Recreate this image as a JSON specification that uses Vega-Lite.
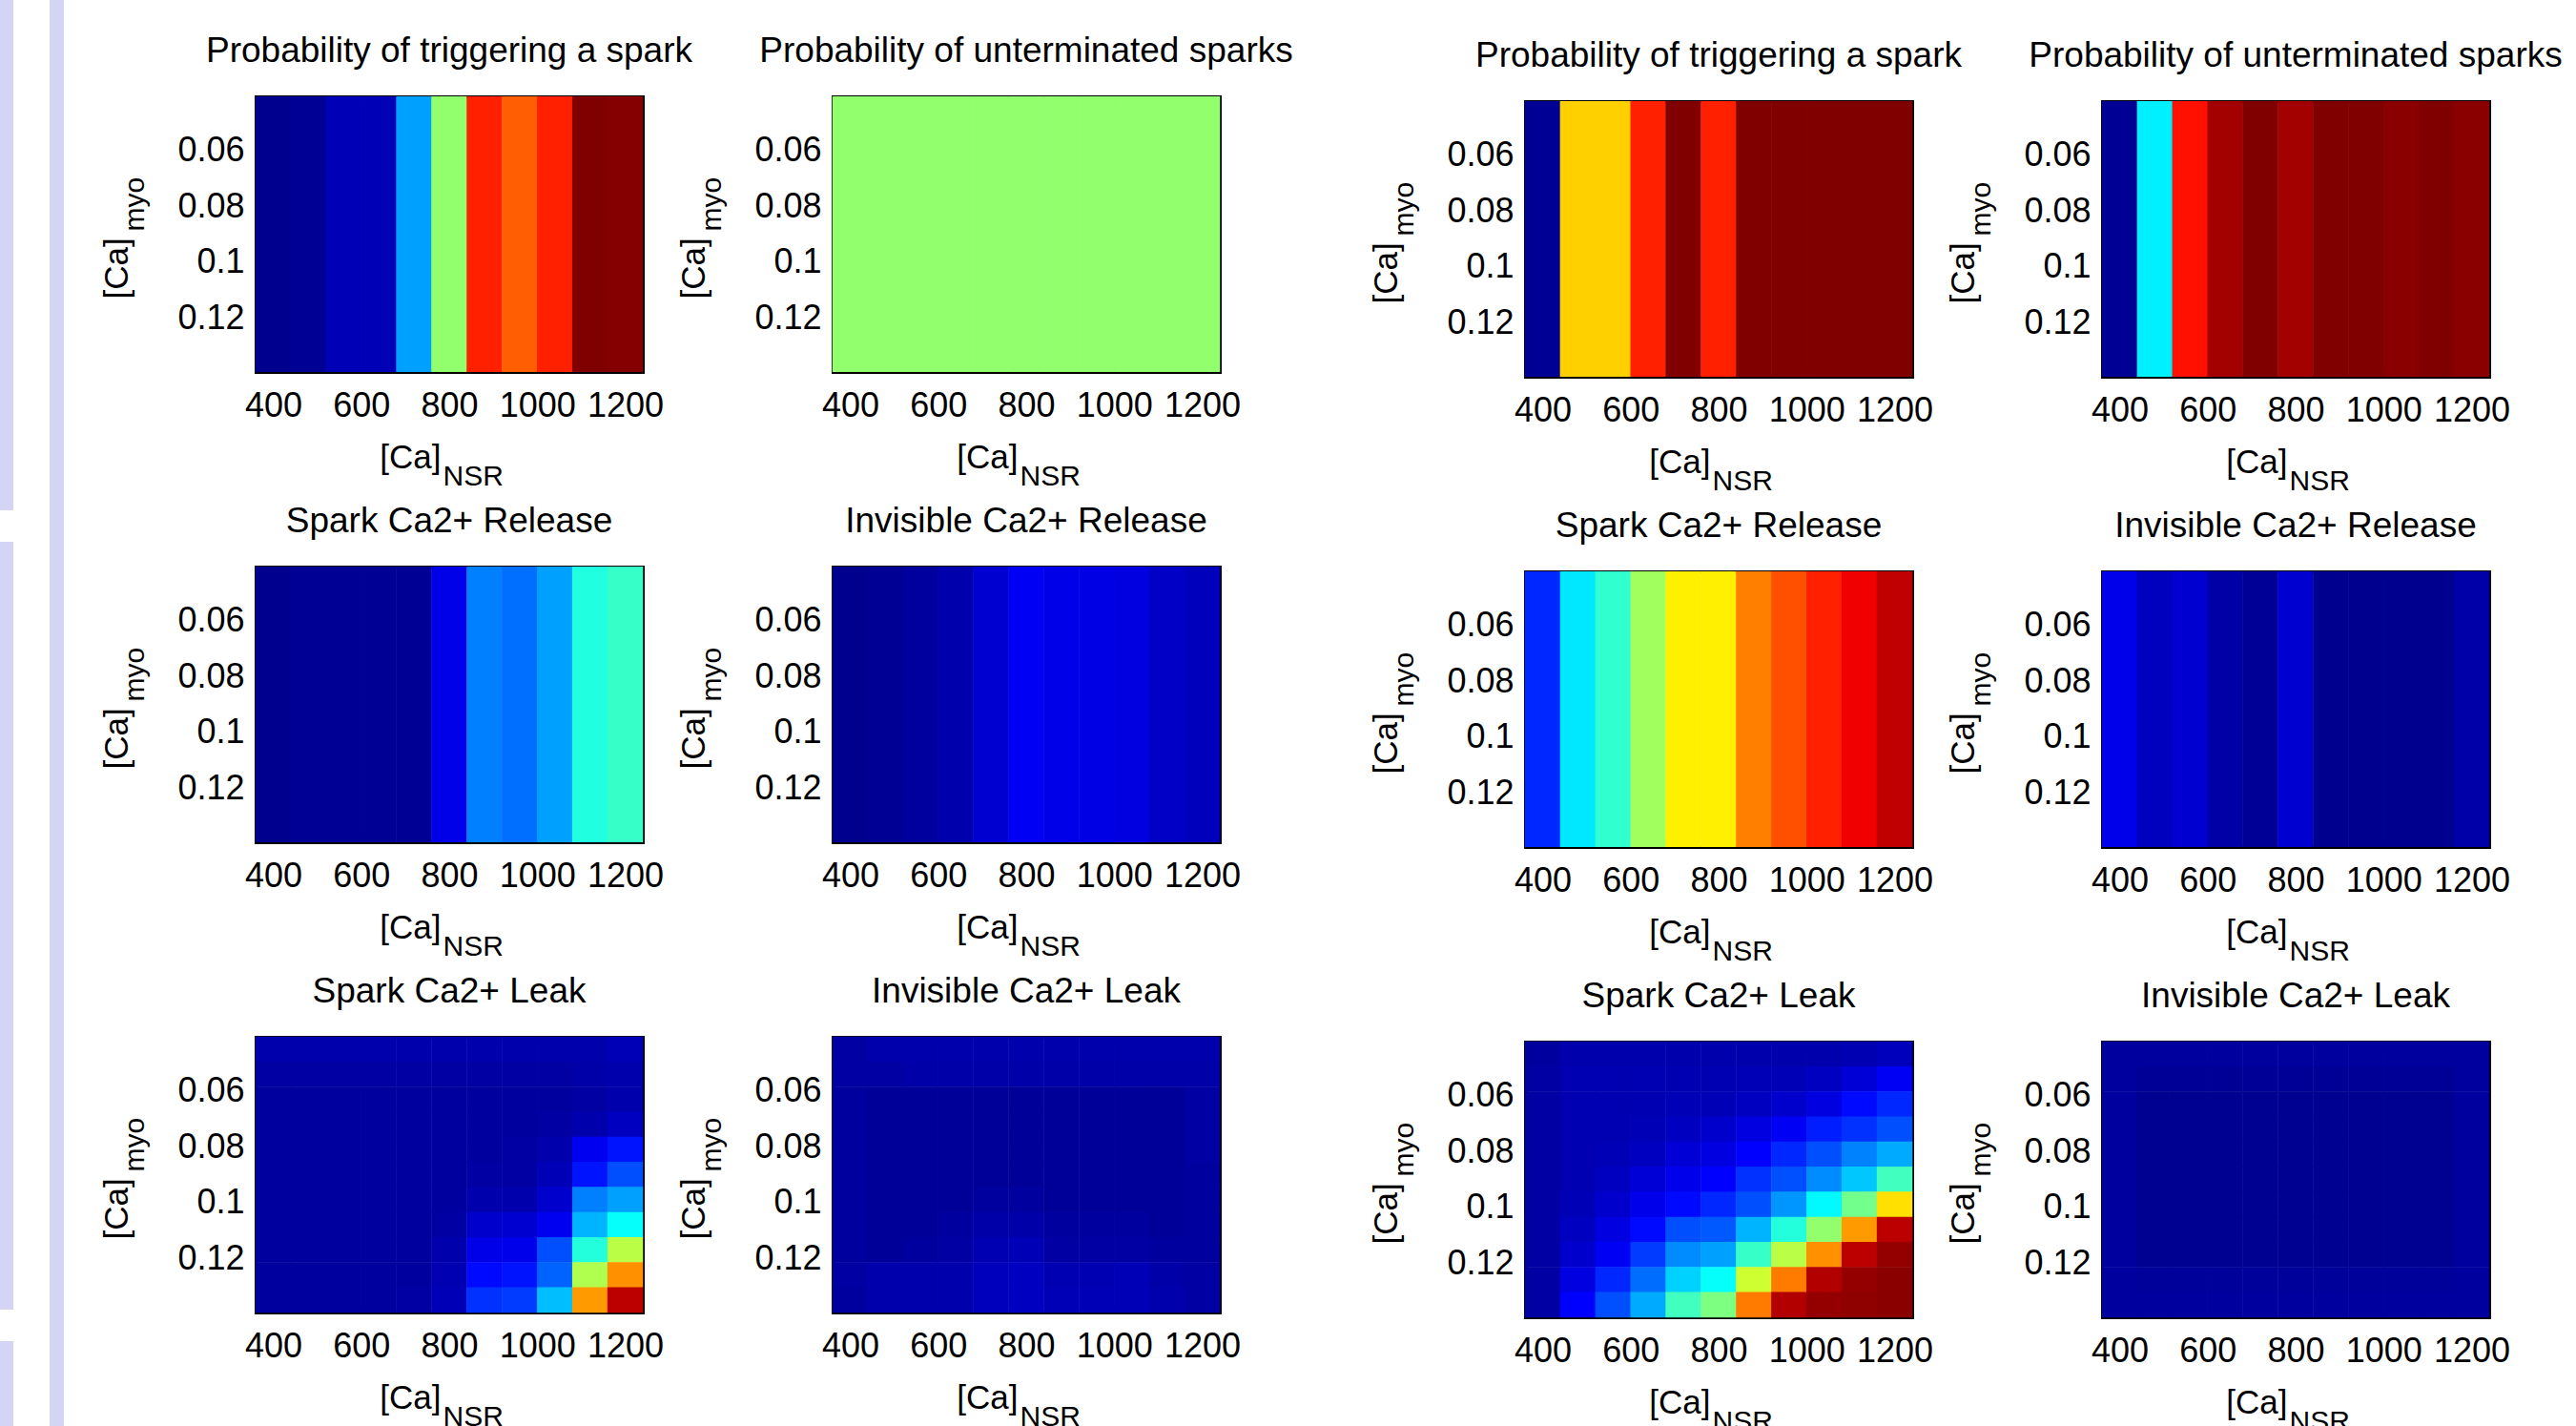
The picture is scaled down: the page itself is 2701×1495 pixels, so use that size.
{
"$schema":"https://vega.github.io/schema/vega-lite/v6.json",
"padding":0,
"background":"white",
"spacing":38,
"config":{
 "view":{"stroke":null},
 "title":{"font":"Liberation Sans","fontSize":37,"fontWeight":"normal","color":"black","offset":27,"baseline":"alphabetic","frame":"group","anchor":"middle"},
 "axis":{"grid":false,"ticks":true,"tickSize":-8,"tickWidth":2,"tickColor":"black","domain":true,"domainWidth":3,"domainColor":"black","domainCap":"square","zindex":1,"labelFont":"Liberation Sans","labelFontSize":36,"labelColor":"black","labelFlush":false,"labelOverlap":false,"titleFont":"Liberation Sans","titleFontSize":35,"titleFontWeight":"normal","titleColor":"black"}
},
"datasets":{
 "s":[{"s":1}],
 "a1":[{"x":400,"v":0},{"x":480,"v":0.005},{"x":560,"v":0.04},{"x":640,"v":0.04},{"x":720,"v":0.27},{"x":800,"v":0.51},{"x":880,"v":0.841},{"x":960,"v":0.778},{"x":1040,"v":0.841},{"x":1120,"v":1},{"x":1200,"v":0.995}],
 "a2":[{"x":400,"v":0.51},{"x":480,"v":0.51},{"x":560,"v":0.51},{"x":640,"v":0.51},{"x":720,"v":0.51},{"x":800,"v":0.51},{"x":880,"v":0.51},{"x":960,"v":0.51},{"x":1040,"v":0.51},{"x":1120,"v":0.51},{"x":1200,"v":0.51}],
 "a3":[{"x":400,"v":0},{"x":480,"v":0.005},{"x":560,"v":0.005},{"x":640,"v":0.005},{"x":720,"v":0.005},{"x":800,"v":0.088},{"x":880,"v":0.238},{"x":960,"v":0.222},{"x":1040,"v":0.27},{"x":1120,"v":0.397},{"x":1200,"v":0.42}],
 "a4":[{"x":400,"v":0},{"x":480,"v":0.005},{"x":560,"v":0.016},{"x":640,"v":0.03},{"x":720,"v":0.064},{"x":800,"v":0.1},{"x":880,"v":0.088},{"x":960,"v":0.085},{"x":1040,"v":0.08},{"x":1120,"v":0.055},{"x":1200,"v":0.045}],
 "b1":[{"x":400,"v":0.005},{"x":480,"v":0.666},{"x":560,"v":0.666},{"x":640,"v":0.841},{"x":720,"v":1},{"x":800,"v":0.841},{"x":880,"v":1},{"x":960,"v":1},{"x":1040,"v":1},{"x":1120,"v":1},{"x":1200,"v":1}],
 "b2":[{"x":400,"v":0.005},{"x":480,"v":0.35},{"x":560,"v":0.857},{"x":640,"v":0.965},{"x":720,"v":1},{"x":800,"v":0.965},{"x":880,"v":1},{"x":960,"v":1},{"x":1040,"v":0.99},{"x":1120,"v":1},{"x":1200,"v":0.99}],
 "b3":[{"x":400,"v":0.15},{"x":480,"v":0.342},{"x":560,"v":0.413},{"x":640,"v":0.525},{"x":720,"v":0.634},{"x":800,"v":0.634},{"x":880,"v":0.746},{"x":960,"v":0.793},{"x":1040,"v":0.841},{"x":1120,"v":0.888},{"x":1200,"v":0.936}],
 "b4":[{"x":400,"v":0.09},{"x":480,"v":0.048},{"x":560,"v":0.064},{"x":640,"v":0.024},{"x":720,"v":0.008},{"x":800,"v":0.064},{"x":880,"v":0},{"x":960,"v":0},{"x":1040,"v":0},{"x":1120,"v":0},{"x":1200,"v":0.025}],
 "a5":[
{"x":400,"y":0.045,"v":0.03},{"x":480,"y":0.045,"v":0.03},{"x":560,"y":0.045,"v":0.03},{"x":640,"y":0.045,"v":0.03},{"x":720,"y":0.045,"v":0.03},{"x":800,"y":0.045,"v":0.03},{"x":880,"y":0.045,"v":0.03},{"x":960,"y":0.045,"v":0.03},{"x":1040,"y":0.045,"v":0.03},{"x":1120,"y":0.045,"v":0.03},{"x":1200,"y":0.045,"v":0.04},
{"x":400,"y":0.054,"v":0.02},{"x":480,"y":0.054,"v":0.02},{"x":560,"y":0.054,"v":0.02},{"x":640,"y":0.054,"v":0.02},{"x":720,"y":0.054,"v":0.02},{"x":800,"y":0.054,"v":0.02},{"x":880,"y":0.054,"v":0.02},{"x":960,"y":0.054,"v":0.02},{"x":1040,"y":0.054,"v":0.02},{"x":1120,"y":0.054,"v":0.025},{"x":1200,"y":0.054,"v":0.03},
{"x":400,"y":0.063,"v":0.015},{"x":480,"y":0.063,"v":0.015},{"x":560,"y":0.063,"v":0.015},{"x":640,"y":0.063,"v":0.015},{"x":720,"y":0.063,"v":0.015},{"x":800,"y":0.063,"v":0.015},{"x":880,"y":0.063,"v":0.015},{"x":960,"y":0.063,"v":0.015},{"x":1040,"y":0.063,"v":0.015},{"x":1120,"y":0.063,"v":0.02},{"x":1200,"y":0.063,"v":0.03},
{"x":400,"y":0.072,"v":0.015},{"x":480,"y":0.072,"v":0.015},{"x":560,"y":0.072,"v":0.015},{"x":640,"y":0.072,"v":0.015},{"x":720,"y":0.072,"v":0.015},{"x":800,"y":0.072,"v":0.015},{"x":880,"y":0.072,"v":0.015},{"x":960,"y":0.072,"v":0.015},{"x":1040,"y":0.072,"v":0.02},{"x":1120,"y":0.072,"v":0.03},{"x":1200,"y":0.072,"v":0.05},
{"x":400,"y":0.081,"v":0.015},{"x":480,"y":0.081,"v":0.015},{"x":560,"y":0.081,"v":0.015},{"x":640,"y":0.081,"v":0.015},{"x":720,"y":0.081,"v":0.015},{"x":800,"y":0.081,"v":0.015},{"x":880,"y":0.081,"v":0.015},{"x":960,"y":0.081,"v":0.02},{"x":1040,"y":0.081,"v":0.03},{"x":1120,"y":0.081,"v":0.096},{"x":1200,"y":0.081,"v":0.13},
{"x":400,"y":0.09,"v":0.015},{"x":480,"y":0.09,"v":0.015},{"x":560,"y":0.09,"v":0.015},{"x":640,"y":0.09,"v":0.015},{"x":720,"y":0.09,"v":0.015},{"x":800,"y":0.09,"v":0.015},{"x":880,"y":0.09,"v":0.02},{"x":960,"y":0.09,"v":0.02},{"x":1040,"y":0.09,"v":0.04},{"x":1120,"y":0.09,"v":0.13},{"x":1200,"y":0.09,"v":0.19},
{"x":400,"y":0.099,"v":0.015},{"x":480,"y":0.099,"v":0.015},{"x":560,"y":0.099,"v":0.015},{"x":640,"y":0.099,"v":0.015},{"x":720,"y":0.099,"v":0.015},{"x":800,"y":0.099,"v":0.015},{"x":880,"y":0.099,"v":0.03},{"x":960,"y":0.099,"v":0.03},{"x":1040,"y":0.099,"v":0.06},{"x":1120,"y":0.099,"v":0.238},{"x":1200,"y":0.099,"v":0.27},
{"x":400,"y":0.108,"v":0.015},{"x":480,"y":0.108,"v":0.015},{"x":560,"y":0.108,"v":0.015},{"x":640,"y":0.108,"v":0.015},{"x":720,"y":0.108,"v":0.015},{"x":800,"y":0.108,"v":0.02},{"x":880,"y":0.108,"v":0.06},{"x":960,"y":0.108,"v":0.065},{"x":1040,"y":0.108,"v":0.096},{"x":1120,"y":0.108,"v":0.29},{"x":1200,"y":0.108,"v":0.37},
{"x":400,"y":0.117,"v":0.015},{"x":480,"y":0.117,"v":0.015},{"x":560,"y":0.117,"v":0.015},{"x":640,"y":0.117,"v":0.015},{"x":720,"y":0.117,"v":0.015},{"x":800,"y":0.117,"v":0.03},{"x":880,"y":0.117,"v":0.088},{"x":960,"y":0.117,"v":0.09},{"x":1040,"y":0.117,"v":0.19},{"x":1120,"y":0.117,"v":0.4},{"x":1200,"y":0.117,"v":0.55},
{"x":400,"y":0.126,"v":0.015},{"x":480,"y":0.126,"v":0.015},{"x":560,"y":0.126,"v":0.015},{"x":640,"y":0.126,"v":0.015},{"x":720,"y":0.126,"v":0.015},{"x":800,"y":0.126,"v":0.035},{"x":880,"y":0.126,"v":0.12},{"x":960,"y":0.126,"v":0.13},{"x":1040,"y":0.126,"v":0.21},{"x":1120,"y":0.126,"v":0.54},{"x":1200,"y":0.126,"v":0.73},
{"x":400,"y":0.135,"v":0.015},{"x":480,"y":0.135,"v":0.015},{"x":560,"y":0.135,"v":0.015},{"x":640,"y":0.135,"v":0.015},{"x":720,"y":0.135,"v":0.02},{"x":800,"y":0.135,"v":0.04},{"x":880,"y":0.135,"v":0.16},{"x":960,"y":0.135,"v":0.17},{"x":1040,"y":0.135,"v":0.3},{"x":1120,"y":0.135,"v":0.72},{"x":1200,"y":0.135,"v":0.94}
 ],
 "a6":[
{"x":400,"y":0.045,"v":0.02},{"x":480,"y":0.045,"v":0.03},{"x":560,"y":0.045,"v":0.03},{"x":640,"y":0.045,"v":0.03},{"x":720,"y":0.045,"v":0.03},{"x":800,"y":0.045,"v":0.03},{"x":880,"y":0.045,"v":0.03},{"x":960,"y":0.045,"v":0.03},{"x":1040,"y":0.045,"v":0.03},{"x":1120,"y":0.045,"v":0.03},{"x":1200,"y":0.045,"v":0.03},
{"x":400,"y":0.054,"v":0.02},{"x":480,"y":0.054,"v":0.02},{"x":560,"y":0.054,"v":0.025},{"x":640,"y":0.054,"v":0.025},{"x":720,"y":0.054,"v":0.025},{"x":800,"y":0.054,"v":0.025},{"x":880,"y":0.054,"v":0.025},{"x":960,"y":0.054,"v":0.025},{"x":1040,"y":0.054,"v":0.025},{"x":1120,"y":0.054,"v":0.025},{"x":1200,"y":0.054,"v":0.025},
{"x":400,"y":0.063,"v":0.015},{"x":480,"y":0.063,"v":0.01},{"x":560,"y":0.063,"v":0.01},{"x":640,"y":0.063,"v":0.01},{"x":720,"y":0.063,"v":0.01},{"x":800,"y":0.063,"v":0.01},{"x":880,"y":0.063,"v":0.01},{"x":960,"y":0.063,"v":0.01},{"x":1040,"y":0.063,"v":0.01},{"x":1120,"y":0.063,"v":0.01},{"x":1200,"y":0.063,"v":0.02},
{"x":400,"y":0.072,"v":0.015},{"x":480,"y":0.072,"v":0.01},{"x":560,"y":0.072,"v":0.01},{"x":640,"y":0.072,"v":0.01},{"x":720,"y":0.072,"v":0.01},{"x":800,"y":0.072,"v":0.01},{"x":880,"y":0.072,"v":0.01},{"x":960,"y":0.072,"v":0.01},{"x":1040,"y":0.072,"v":0.01},{"x":1120,"y":0.072,"v":0.01},{"x":1200,"y":0.072,"v":0.02},
{"x":400,"y":0.081,"v":0.015},{"x":480,"y":0.081,"v":0.01},{"x":560,"y":0.081,"v":0.01},{"x":640,"y":0.081,"v":0.01},{"x":720,"y":0.081,"v":0.01},{"x":800,"y":0.081,"v":0.01},{"x":880,"y":0.081,"v":0.01},{"x":960,"y":0.081,"v":0.01},{"x":1040,"y":0.081,"v":0.01},{"x":1120,"y":0.081,"v":0.01},{"x":1200,"y":0.081,"v":0.02},
{"x":400,"y":0.09,"v":0.015},{"x":480,"y":0.09,"v":0.01},{"x":560,"y":0.09,"v":0.01},{"x":640,"y":0.09,"v":0.01},{"x":720,"y":0.09,"v":0.01},{"x":800,"y":0.09,"v":0.01},{"x":880,"y":0.09,"v":0.01},{"x":960,"y":0.09,"v":0.01},{"x":1040,"y":0.09,"v":0.01},{"x":1120,"y":0.09,"v":0.01},{"x":1200,"y":0.09,"v":0.015},
{"x":400,"y":0.099,"v":0.015},{"x":480,"y":0.099,"v":0.01},{"x":560,"y":0.099,"v":0.01},{"x":640,"y":0.099,"v":0.01},{"x":720,"y":0.099,"v":0.015},{"x":800,"y":0.099,"v":0.015},{"x":880,"y":0.099,"v":0.01},{"x":960,"y":0.099,"v":0.01},{"x":1040,"y":0.099,"v":0.01},{"x":1120,"y":0.099,"v":0.01},{"x":1200,"y":0.099,"v":0.015},
{"x":400,"y":0.108,"v":0.015},{"x":480,"y":0.108,"v":0.01},{"x":560,"y":0.108,"v":0.01},{"x":640,"y":0.108,"v":0.015},{"x":720,"y":0.108,"v":0.025},{"x":800,"y":0.108,"v":0.025},{"x":880,"y":0.108,"v":0.015},{"x":960,"y":0.108,"v":0.015},{"x":1040,"y":0.108,"v":0.015},{"x":1120,"y":0.108,"v":0.01},{"x":1200,"y":0.108,"v":0.015},
{"x":400,"y":0.117,"v":0.015},{"x":480,"y":0.117,"v":0.01},{"x":560,"y":0.117,"v":0.015},{"x":640,"y":0.117,"v":0.02},{"x":720,"y":0.117,"v":0.035},{"x":800,"y":0.117,"v":0.04},{"x":880,"y":0.117,"v":0.02},{"x":960,"y":0.117,"v":0.02},{"x":1040,"y":0.117,"v":0.02},{"x":1120,"y":0.117,"v":0.015},{"x":1200,"y":0.117,"v":0.015},
{"x":400,"y":0.126,"v":0.02},{"x":480,"y":0.126,"v":0.03},{"x":560,"y":0.126,"v":0.03},{"x":640,"y":0.126,"v":0.03},{"x":720,"y":0.126,"v":0.045},{"x":800,"y":0.126,"v":0.05},{"x":880,"y":0.126,"v":0.035},{"x":960,"y":0.126,"v":0.035},{"x":1040,"y":0.126,"v":0.04},{"x":1120,"y":0.126,"v":0.025},{"x":1200,"y":0.126,"v":0.02},
{"x":400,"y":0.135,"v":0.015},{"x":480,"y":0.135,"v":0.03},{"x":560,"y":0.135,"v":0.03},{"x":640,"y":0.135,"v":0.03},{"x":720,"y":0.135,"v":0.045},{"x":800,"y":0.135,"v":0.05},{"x":880,"y":0.135,"v":0.04},{"x":960,"y":0.135,"v":0.04},{"x":1040,"y":0.135,"v":0.04},{"x":1120,"y":0.135,"v":0.03},{"x":1200,"y":0.135,"v":0.02}
 ],
 "b5":[
{"x":400,"y":0.045,"v":0.016},{"x":480,"y":0.045,"v":0.03},{"x":560,"y":0.045,"v":0.03},{"x":640,"y":0.045,"v":0.03},{"x":720,"y":0.045,"v":0.03},{"x":800,"y":0.045,"v":0.03},{"x":880,"y":0.045,"v":0.03},{"x":960,"y":0.045,"v":0.03},{"x":1040,"y":0.045,"v":0.03},{"x":1120,"y":0.045,"v":0.035},{"x":1200,"y":0.045,"v":0.045},
{"x":400,"y":0.054,"v":0.02},{"x":480,"y":0.054,"v":0.035},{"x":560,"y":0.054,"v":0.035},{"x":640,"y":0.054,"v":0.035},{"x":720,"y":0.054,"v":0.035},{"x":800,"y":0.054,"v":0.035},{"x":880,"y":0.054,"v":0.04},{"x":960,"y":0.054,"v":0.04},{"x":1040,"y":0.054,"v":0.05},{"x":1120,"y":0.054,"v":0.07},{"x":1200,"y":0.054,"v":0.1},
{"x":400,"y":0.063,"v":0.02},{"x":480,"y":0.063,"v":0.035},{"x":560,"y":0.063,"v":0.035},{"x":640,"y":0.063,"v":0.035},{"x":720,"y":0.063,"v":0.04},{"x":800,"y":0.063,"v":0.04},{"x":880,"y":0.063,"v":0.05},{"x":960,"y":0.063,"v":0.06},{"x":1040,"y":0.063,"v":0.08},{"x":1120,"y":0.063,"v":0.12},{"x":1200,"y":0.063,"v":0.15},
{"x":400,"y":0.072,"v":0.02},{"x":480,"y":0.072,"v":0.035},{"x":560,"y":0.072,"v":0.035},{"x":640,"y":0.072,"v":0.04},{"x":720,"y":0.072,"v":0.05},{"x":800,"y":0.072,"v":0.06},{"x":880,"y":0.072,"v":0.08},{"x":960,"y":0.072,"v":0.1},{"x":1040,"y":0.072,"v":0.14},{"x":1120,"y":0.072,"v":0.16},{"x":1200,"y":0.072,"v":0.19},
{"x":400,"y":0.081,"v":0.02},{"x":480,"y":0.081,"v":0.035},{"x":560,"y":0.081,"v":0.04},{"x":640,"y":0.081,"v":0.05},{"x":720,"y":0.081,"v":0.07},{"x":800,"y":0.081,"v":0.08},{"x":880,"y":0.081,"v":0.11},{"x":960,"y":0.081,"v":0.15},{"x":1040,"y":0.081,"v":0.19},{"x":1120,"y":0.081,"v":0.24},{"x":1200,"y":0.081,"v":0.28},
{"x":400,"y":0.09,"v":0.02},{"x":480,"y":0.09,"v":0.035},{"x":560,"y":0.09,"v":0.05},{"x":640,"y":0.09,"v":0.07},{"x":720,"y":0.09,"v":0.09},{"x":800,"y":0.09,"v":0.11},{"x":880,"y":0.09,"v":0.16},{"x":960,"y":0.09,"v":0.19},{"x":1040,"y":0.09,"v":0.25},{"x":1120,"y":0.09,"v":0.31},{"x":1200,"y":0.09,"v":0.43},
{"x":400,"y":0.099,"v":0.02},{"x":480,"y":0.099,"v":0.04},{"x":560,"y":0.099,"v":0.06},{"x":640,"y":0.099,"v":0.09},{"x":720,"y":0.099,"v":0.12},{"x":800,"y":0.099,"v":0.15},{"x":880,"y":0.099,"v":0.19},{"x":960,"y":0.099,"v":0.26},{"x":1040,"y":0.099,"v":0.36},{"x":1120,"y":0.099,"v":0.48},{"x":1200,"y":0.099,"v":0.65},
{"x":400,"y":0.108,"v":0.02},{"x":480,"y":0.108,"v":0.05},{"x":560,"y":0.108,"v":0.08},{"x":640,"y":0.108,"v":0.12},{"x":720,"y":0.108,"v":0.19},{"x":800,"y":0.108,"v":0.2},{"x":880,"y":0.108,"v":0.29},{"x":960,"y":0.108,"v":0.4},{"x":1040,"y":0.108,"v":0.51},{"x":1120,"y":0.108,"v":0.72},{"x":1200,"y":0.108,"v":0.94},
{"x":400,"y":0.117,"v":0.02},{"x":480,"y":0.117,"v":0.06},{"x":560,"y":0.117,"v":0.1},{"x":640,"y":0.117,"v":0.17},{"x":720,"y":0.117,"v":0.25},{"x":800,"y":0.117,"v":0.27},{"x":880,"y":0.117,"v":0.42},{"x":960,"y":0.117,"v":0.55},{"x":1040,"y":0.117,"v":0.73},{"x":1120,"y":0.117,"v":0.94},{"x":1200,"y":0.117,"v":0.98},
{"x":400,"y":0.126,"v":0.02},{"x":480,"y":0.126,"v":0.08},{"x":560,"y":0.126,"v":0.15},{"x":640,"y":0.126,"v":0.22},{"x":720,"y":0.126,"v":0.32},{"x":800,"y":0.126,"v":0.37},{"x":880,"y":0.126,"v":0.57},{"x":960,"y":0.126,"v":0.75},{"x":1040,"y":0.126,"v":0.95},{"x":1120,"y":0.126,"v":0.98},{"x":1200,"y":0.126,"v":0.99},
{"x":400,"y":0.135,"v":0.02},{"x":480,"y":0.135,"v":0.11},{"x":560,"y":0.135,"v":0.19},{"x":640,"y":0.135,"v":0.28},{"x":720,"y":0.135,"v":0.43},{"x":800,"y":0.135,"v":0.49},{"x":880,"y":0.135,"v":0.75},{"x":960,"y":0.135,"v":0.95},{"x":1040,"y":0.135,"v":0.98},{"x":1120,"y":0.135,"v":0.985},{"x":1200,"y":0.135,"v":0.99}
 ],
 "b6":[
{"x":400,"y":0.045,"v":0.016},{"x":480,"y":0.045,"v":0.016},{"x":560,"y":0.045,"v":0.016},{"x":640,"y":0.045,"v":0.016},{"x":720,"y":0.045,"v":0.016},{"x":800,"y":0.045,"v":0.016},{"x":880,"y":0.045,"v":0.016},{"x":960,"y":0.045,"v":0.016},{"x":1040,"y":0.045,"v":0.016},{"x":1120,"y":0.045,"v":0.016},{"x":1200,"y":0.045,"v":0.016},
{"x":400,"y":0.054,"v":0.016},{"x":480,"y":0.054,"v":0.008},{"x":560,"y":0.054,"v":0.008},{"x":640,"y":0.054,"v":0.008},{"x":720,"y":0.054,"v":0.008},{"x":800,"y":0.054,"v":0.008},{"x":880,"y":0.054,"v":0.008},{"x":960,"y":0.054,"v":0.008},{"x":1040,"y":0.054,"v":0.008},{"x":1120,"y":0.054,"v":0.008},{"x":1200,"y":0.054,"v":0.016},
{"x":400,"y":0.063,"v":0.016},{"x":480,"y":0.063,"v":0.002},{"x":560,"y":0.063,"v":0.002},{"x":640,"y":0.063,"v":0.002},{"x":720,"y":0.063,"v":0.002},{"x":800,"y":0.063,"v":0.002},{"x":880,"y":0.063,"v":0.002},{"x":960,"y":0.063,"v":0.002},{"x":1040,"y":0.063,"v":0.002},{"x":1120,"y":0.063,"v":0.002},{"x":1200,"y":0.063,"v":0.016},
{"x":400,"y":0.072,"v":0.016},{"x":480,"y":0.072,"v":0.002},{"x":560,"y":0.072,"v":0.002},{"x":640,"y":0.072,"v":0.002},{"x":720,"y":0.072,"v":0.002},{"x":800,"y":0.072,"v":0.002},{"x":880,"y":0.072,"v":0.002},{"x":960,"y":0.072,"v":0.002},{"x":1040,"y":0.072,"v":0.002},{"x":1120,"y":0.072,"v":0.002},{"x":1200,"y":0.072,"v":0.016},
{"x":400,"y":0.081,"v":0.016},{"x":480,"y":0.081,"v":0.002},{"x":560,"y":0.081,"v":0.002},{"x":640,"y":0.081,"v":0.002},{"x":720,"y":0.081,"v":0.002},{"x":800,"y":0.081,"v":0.002},{"x":880,"y":0.081,"v":0.002},{"x":960,"y":0.081,"v":0.002},{"x":1040,"y":0.081,"v":0.002},{"x":1120,"y":0.081,"v":0.002},{"x":1200,"y":0.081,"v":0.016},
{"x":400,"y":0.09,"v":0.016},{"x":480,"y":0.09,"v":0.002},{"x":560,"y":0.09,"v":0.002},{"x":640,"y":0.09,"v":0.002},{"x":720,"y":0.09,"v":0.002},{"x":800,"y":0.09,"v":0.002},{"x":880,"y":0.09,"v":0.002},{"x":960,"y":0.09,"v":0.002},{"x":1040,"y":0.09,"v":0.002},{"x":1120,"y":0.09,"v":0.002},{"x":1200,"y":0.09,"v":0.016},
{"x":400,"y":0.099,"v":0.016},{"x":480,"y":0.099,"v":0.002},{"x":560,"y":0.099,"v":0.002},{"x":640,"y":0.099,"v":0.002},{"x":720,"y":0.099,"v":0.002},{"x":800,"y":0.099,"v":0.002},{"x":880,"y":0.099,"v":0.002},{"x":960,"y":0.099,"v":0.002},{"x":1040,"y":0.099,"v":0.002},{"x":1120,"y":0.099,"v":0.002},{"x":1200,"y":0.099,"v":0.016},
{"x":400,"y":0.108,"v":0.016},{"x":480,"y":0.108,"v":0.002},{"x":560,"y":0.108,"v":0.002},{"x":640,"y":0.108,"v":0.002},{"x":720,"y":0.108,"v":0.002},{"x":800,"y":0.108,"v":0.002},{"x":880,"y":0.108,"v":0.002},{"x":960,"y":0.108,"v":0.002},{"x":1040,"y":0.108,"v":0.002},{"x":1120,"y":0.108,"v":0.002},{"x":1200,"y":0.108,"v":0.016},
{"x":400,"y":0.117,"v":0.016},{"x":480,"y":0.117,"v":0.002},{"x":560,"y":0.117,"v":0.002},{"x":640,"y":0.117,"v":0.002},{"x":720,"y":0.117,"v":0.002},{"x":800,"y":0.117,"v":0.002},{"x":880,"y":0.117,"v":0.002},{"x":960,"y":0.117,"v":0.002},{"x":1040,"y":0.117,"v":0.002},{"x":1120,"y":0.117,"v":0.002},{"x":1200,"y":0.117,"v":0.016},
{"x":400,"y":0.126,"v":0.016},{"x":480,"y":0.126,"v":0.012},{"x":560,"y":0.126,"v":0.012},{"x":640,"y":0.126,"v":0.012},{"x":720,"y":0.126,"v":0.012},{"x":800,"y":0.126,"v":0.012},{"x":880,"y":0.126,"v":0.012},{"x":960,"y":0.126,"v":0.012},{"x":1040,"y":0.126,"v":0.012},{"x":1120,"y":0.126,"v":0.012},{"x":1200,"y":0.126,"v":0.016},
{"x":400,"y":0.135,"v":0.016},{"x":480,"y":0.135,"v":0.016},{"x":560,"y":0.135,"v":0.016},{"x":640,"y":0.135,"v":0.016},{"x":720,"y":0.135,"v":0.016},{"x":800,"y":0.135,"v":0.016},{"x":880,"y":0.135,"v":0.016},{"x":960,"y":0.135,"v":0.016},{"x":1040,"y":0.135,"v":0.016},{"x":1120,"y":0.135,"v":0.016},{"x":1200,"y":0.135,"v":0.016}
 ]
},
"hconcat":[
 {"vconcat":[
   {"width":14,"height":535,"view":{"fill":"#d4d4f4","stroke":null},"data":{"name":"s"},"mark":{"type":"rect","opacity":0},"encoding":{}},
   {"width":14,"height":805,"view":{"fill":"#d4d4f4","stroke":null},"data":{"name":"s"},"mark":{"type":"rect","opacity":0},"encoding":{}},
   {"width":14,"height":89,"view":{"fill":"#d4d4f4","stroke":null},"data":{"name":"s"},"mark":{"type":"rect","opacity":0},"encoding":{}}
  ],"spacing":33},
 {"width":15,"height":1495,"view":{"fill":"#d4d4f4","stroke":null},"data":{"name":"s"},"mark":{"type":"rect","opacity":0},"encoding":{}},
 {"hconcat":[
  {"vconcat":[
   {"width":1,"height":35,"view":{"stroke":null},"data":{"name":"s"},"mark":{"type":"rect","opacity":0},"encoding":{}},
   {"concat":[
       {"width":406,"height":289,"title":"Probability of triggering a spark","data":{"name":"a1"},"layer":[
         {"mark":{"type":"rect","width":37.4},"encoding":{"x":{"field":"x","type":"quantitative","scale":{"domain":[360,1240],"nice":false,"zero":false},"axis":null},"color":{"field":"v","type":"quantitative","scale":{"domain":[0,0.111,0.365,0.619,0.873,1],"range":["#00008f","#0000ff","#00ffff","#ffff00","#ff0000","#800000"],"interpolate":"rgb"},"legend":null}}},
         {"mark":{"type":"point","opacity":0},"encoding":{"x":{"datum":800,"type":"quantitative","scale":{"domain":[360,1240],"nice":false,"zero":false},"axis":{"orient":"bottom","values":[400,600,800,1000,1200],"format":"d","ticks":false,"domain":false,"labelPadding":18,"title":"[Ca]","titleAlign":"right","titleBaseline":"alphabetic","titleX":194,"titleY":100}},"y":{"datum":0.09,"type":"quantitative","scale":{"domain":[0.0405,0.1395],"nice":false,"zero":false,"reverse":true},"axis":{"orient":"left","values":[0.06,0.08,0.1,0.12],"format":"~g","ticks":false,"domain":false,"labelPadding":12,"title":"[Ca]","titleAngle":270,"titleAlign":"left","titleBaseline":"alphabetic","titleX":-135,"titleY":212}}}},
         {"mark":{"type":"point","opacity":0},"encoding":{"x":{"datum":800,"type":"quantitative","scale":{"domain":[360,1240],"nice":false,"zero":false},"axis":{"orient":"bottom","values":[400,600,800,1000,1200],"labels":false,"title":"NSR","titleFontSize":30,"titleAlign":"left","titleBaseline":"alphabetic","titleX":196,"titleY":118}},"y":{"datum":0.09,"type":"quantitative","scale":{"domain":[0.0405,0.1395],"nice":false,"zero":false,"reverse":true},"axis":{"orient":"left","values":[0.06,0.08,0.1,0.12],"labels":false,"title":"myo","titleFontSize":30,"titleAngle":270,"titleAlign":"left","titleBaseline":"alphabetic","titleX":-118,"titleY":141}}}},
         {"mark":{"type":"point","opacity":0},"encoding":{"x":{"datum":800,"type":"quantitative","scale":{"domain":[360,1240],"nice":false,"zero":false},"axis":{"orient":"top","values":[400,600,800,1000,1200],"labels":false,"title":null}},"y":{"datum":0.09,"type":"quantitative","scale":{"domain":[0.0405,0.1395],"nice":false,"zero":false,"reverse":true},"axis":{"orient":"right","values":[0.06,0.08,0.1,0.12],"labels":false,"title":null}}}}
       ],"resolve":{"axis":{"x":"independent","y":"independent"}}},
       {"width":406,"height":289,"title":"Probability of unterminated sparks","data":{"name":"a2"},"layer":[
         {"mark":{"type":"rect","width":37.4},"encoding":{"x":{"field":"x","type":"quantitative","scale":{"domain":[360,1240],"nice":false,"zero":false},"axis":null},"color":{"field":"v","type":"quantitative","scale":{"domain":[0,0.111,0.365,0.619,0.873,1],"range":["#00008f","#0000ff","#00ffff","#ffff00","#ff0000","#800000"],"interpolate":"rgb"},"legend":null}}},
         {"mark":{"type":"point","opacity":0},"encoding":{"x":{"datum":800,"type":"quantitative","scale":{"domain":[360,1240],"nice":false,"zero":false},"axis":{"orient":"bottom","values":[400,600,800,1000,1200],"format":"d","ticks":false,"domain":false,"labelPadding":18,"title":"[Ca]","titleAlign":"right","titleBaseline":"alphabetic","titleX":194,"titleY":100}},"y":{"datum":0.09,"type":"quantitative","scale":{"domain":[0.0405,0.1395],"nice":false,"zero":false,"reverse":true},"axis":{"orient":"left","values":[0.06,0.08,0.1,0.12],"format":"~g","ticks":false,"domain":false,"labelPadding":12,"title":"[Ca]","titleAngle":270,"titleAlign":"left","titleBaseline":"alphabetic","titleX":-135,"titleY":212}}}},
         {"mark":{"type":"point","opacity":0},"encoding":{"x":{"datum":800,"type":"quantitative","scale":{"domain":[360,1240],"nice":false,"zero":false},"axis":{"orient":"bottom","values":[400,600,800,1000,1200],"labels":false,"title":"NSR","titleFontSize":30,"titleAlign":"left","titleBaseline":"alphabetic","titleX":196,"titleY":118}},"y":{"datum":0.09,"type":"quantitative","scale":{"domain":[0.0405,0.1395],"nice":false,"zero":false,"reverse":true},"axis":{"orient":"left","values":[0.06,0.08,0.1,0.12],"labels":false,"title":"myo","titleFontSize":30,"titleAngle":270,"titleAlign":"left","titleBaseline":"alphabetic","titleX":-118,"titleY":141}}}},
         {"mark":{"type":"point","opacity":0},"encoding":{"x":{"datum":800,"type":"quantitative","scale":{"domain":[360,1240],"nice":false,"zero":false},"axis":{"orient":"top","values":[400,600,800,1000,1200],"labels":false,"title":null}},"y":{"datum":0.09,"type":"quantitative","scale":{"domain":[0.0405,0.1395],"nice":false,"zero":false,"reverse":true},"axis":{"orient":"right","values":[0.06,0.08,0.1,0.12],"labels":false,"title":null}}}}
       ],"resolve":{"axis":{"x":"independent","y":"independent"}}},
       {"width":406,"height":289,"title":"Spark Ca2+ Release","data":{"name":"a3"},"layer":[
         {"mark":{"type":"rect","width":37.4},"encoding":{"x":{"field":"x","type":"quantitative","scale":{"domain":[360,1240],"nice":false,"zero":false},"axis":null},"color":{"field":"v","type":"quantitative","scale":{"domain":[0,0.111,0.365,0.619,0.873,1],"range":["#00008f","#0000ff","#00ffff","#ffff00","#ff0000","#800000"],"interpolate":"rgb"},"legend":null}}},
         {"mark":{"type":"point","opacity":0},"encoding":{"x":{"datum":800,"type":"quantitative","scale":{"domain":[360,1240],"nice":false,"zero":false},"axis":{"orient":"bottom","values":[400,600,800,1000,1200],"format":"d","ticks":false,"domain":false,"labelPadding":18,"title":"[Ca]","titleAlign":"right","titleBaseline":"alphabetic","titleX":194,"titleY":100}},"y":{"datum":0.09,"type":"quantitative","scale":{"domain":[0.0405,0.1395],"nice":false,"zero":false,"reverse":true},"axis":{"orient":"left","values":[0.06,0.08,0.1,0.12],"format":"~g","ticks":false,"domain":false,"labelPadding":12,"title":"[Ca]","titleAngle":270,"titleAlign":"left","titleBaseline":"alphabetic","titleX":-135,"titleY":212}}}},
         {"mark":{"type":"point","opacity":0},"encoding":{"x":{"datum":800,"type":"quantitative","scale":{"domain":[360,1240],"nice":false,"zero":false},"axis":{"orient":"bottom","values":[400,600,800,1000,1200],"labels":false,"title":"NSR","titleFontSize":30,"titleAlign":"left","titleBaseline":"alphabetic","titleX":196,"titleY":118}},"y":{"datum":0.09,"type":"quantitative","scale":{"domain":[0.0405,0.1395],"nice":false,"zero":false,"reverse":true},"axis":{"orient":"left","values":[0.06,0.08,0.1,0.12],"labels":false,"title":"myo","titleFontSize":30,"titleAngle":270,"titleAlign":"left","titleBaseline":"alphabetic","titleX":-118,"titleY":141}}}},
         {"mark":{"type":"point","opacity":0},"encoding":{"x":{"datum":800,"type":"quantitative","scale":{"domain":[360,1240],"nice":false,"zero":false},"axis":{"orient":"top","values":[400,600,800,1000,1200],"labels":false,"title":null}},"y":{"datum":0.09,"type":"quantitative","scale":{"domain":[0.0405,0.1395],"nice":false,"zero":false,"reverse":true},"axis":{"orient":"right","values":[0.06,0.08,0.1,0.12],"labels":false,"title":null}}}}
       ],"resolve":{"axis":{"x":"independent","y":"independent"}}},
       {"width":406,"height":289,"title":"Invisible Ca2+ Release","data":{"name":"a4"},"layer":[
         {"mark":{"type":"rect","width":37.4},"encoding":{"x":{"field":"x","type":"quantitative","scale":{"domain":[360,1240],"nice":false,"zero":false},"axis":null},"color":{"field":"v","type":"quantitative","scale":{"domain":[0,0.111,0.365,0.619,0.873,1],"range":["#00008f","#0000ff","#00ffff","#ffff00","#ff0000","#800000"],"interpolate":"rgb"},"legend":null}}},
         {"mark":{"type":"point","opacity":0},"encoding":{"x":{"datum":800,"type":"quantitative","scale":{"domain":[360,1240],"nice":false,"zero":false},"axis":{"orient":"bottom","values":[400,600,800,1000,1200],"format":"d","ticks":false,"domain":false,"labelPadding":18,"title":"[Ca]","titleAlign":"right","titleBaseline":"alphabetic","titleX":194,"titleY":100}},"y":{"datum":0.09,"type":"quantitative","scale":{"domain":[0.0405,0.1395],"nice":false,"zero":false,"reverse":true},"axis":{"orient":"left","values":[0.06,0.08,0.1,0.12],"format":"~g","ticks":false,"domain":false,"labelPadding":12,"title":"[Ca]","titleAngle":270,"titleAlign":"left","titleBaseline":"alphabetic","titleX":-135,"titleY":212}}}},
         {"mark":{"type":"point","opacity":0},"encoding":{"x":{"datum":800,"type":"quantitative","scale":{"domain":[360,1240],"nice":false,"zero":false},"axis":{"orient":"bottom","values":[400,600,800,1000,1200],"labels":false,"title":"NSR","titleFontSize":30,"titleAlign":"left","titleBaseline":"alphabetic","titleX":196,"titleY":118}},"y":{"datum":0.09,"type":"quantitative","scale":{"domain":[0.0405,0.1395],"nice":false,"zero":false,"reverse":true},"axis":{"orient":"left","values":[0.06,0.08,0.1,0.12],"labels":false,"title":"myo","titleFontSize":30,"titleAngle":270,"titleAlign":"left","titleBaseline":"alphabetic","titleX":-118,"titleY":141}}}},
         {"mark":{"type":"point","opacity":0},"encoding":{"x":{"datum":800,"type":"quantitative","scale":{"domain":[360,1240],"nice":false,"zero":false},"axis":{"orient":"top","values":[400,600,800,1000,1200],"labels":false,"title":null}},"y":{"datum":0.09,"type":"quantitative","scale":{"domain":[0.0405,0.1395],"nice":false,"zero":false,"reverse":true},"axis":{"orient":"right","values":[0.06,0.08,0.1,0.12],"labels":false,"title":null}}}}
       ],"resolve":{"axis":{"x":"independent","y":"independent"}}},
       {"width":406,"height":289,"title":"Spark Ca2+ Leak","data":{"name":"a5"},"layer":[
         {"mark":{"type":"rect","width":37.4,"height":26.8},"encoding":{"x":{"field":"x","type":"quantitative","scale":{"domain":[360,1240],"nice":false,"zero":false},"axis":null},"y":{"field":"y","type":"quantitative","scale":{"domain":[0.0405,0.1395],"nice":false,"zero":false,"reverse":true},"axis":null},"color":{"field":"v","type":"quantitative","scale":{"domain":[0,0.111,0.365,0.619,0.873,1],"range":["#00008f","#0000ff","#00ffff","#ffff00","#ff0000","#800000"],"interpolate":"rgb"},"legend":null}}},
         {"mark":{"type":"point","opacity":0},"encoding":{"x":{"datum":800,"type":"quantitative","scale":{"domain":[360,1240],"nice":false,"zero":false},"axis":{"orient":"bottom","values":[400,600,800,1000,1200],"format":"d","ticks":false,"domain":false,"labelPadding":18,"title":"[Ca]","titleAlign":"right","titleBaseline":"alphabetic","titleX":194,"titleY":100}},"y":{"datum":0.09,"type":"quantitative","scale":{"domain":[0.0405,0.1395],"nice":false,"zero":false,"reverse":true},"axis":{"orient":"left","values":[0.06,0.08,0.1,0.12],"format":"~g","ticks":false,"domain":false,"labelPadding":12,"title":"[Ca]","titleAngle":270,"titleAlign":"left","titleBaseline":"alphabetic","titleX":-135,"titleY":212}}}},
         {"mark":{"type":"point","opacity":0},"encoding":{"x":{"datum":800,"type":"quantitative","scale":{"domain":[360,1240],"nice":false,"zero":false},"axis":{"orient":"bottom","values":[400,600,800,1000,1200],"labels":false,"title":"NSR","titleFontSize":30,"titleAlign":"left","titleBaseline":"alphabetic","titleX":196,"titleY":118}},"y":{"datum":0.09,"type":"quantitative","scale":{"domain":[0.0405,0.1395],"nice":false,"zero":false,"reverse":true},"axis":{"orient":"left","values":[0.06,0.08,0.1,0.12],"labels":false,"title":"myo","titleFontSize":30,"titleAngle":270,"titleAlign":"left","titleBaseline":"alphabetic","titleX":-118,"titleY":141}}}},
         {"mark":{"type":"point","opacity":0},"encoding":{"x":{"datum":800,"type":"quantitative","scale":{"domain":[360,1240],"nice":false,"zero":false},"axis":{"orient":"top","values":[400,600,800,1000,1200],"labels":false,"title":null}},"y":{"datum":0.09,"type":"quantitative","scale":{"domain":[0.0405,0.1395],"nice":false,"zero":false,"reverse":true},"axis":{"orient":"right","values":[0.06,0.08,0.1,0.12],"labels":false,"title":null}}}}
       ],"resolve":{"axis":{"x":"independent","y":"independent"}}},
       {"width":406,"height":289,"title":"Invisible Ca2+ Leak","data":{"name":"a6"},"layer":[
         {"mark":{"type":"rect","width":37.4,"height":26.8},"encoding":{"x":{"field":"x","type":"quantitative","scale":{"domain":[360,1240],"nice":false,"zero":false},"axis":null},"y":{"field":"y","type":"quantitative","scale":{"domain":[0.0405,0.1395],"nice":false,"zero":false,"reverse":true},"axis":null},"color":{"field":"v","type":"quantitative","scale":{"domain":[0,0.111,0.365,0.619,0.873,1],"range":["#00008f","#0000ff","#00ffff","#ffff00","#ff0000","#800000"],"interpolate":"rgb"},"legend":null}}},
         {"mark":{"type":"point","opacity":0},"encoding":{"x":{"datum":800,"type":"quantitative","scale":{"domain":[360,1240],"nice":false,"zero":false},"axis":{"orient":"bottom","values":[400,600,800,1000,1200],"format":"d","ticks":false,"domain":false,"labelPadding":18,"title":"[Ca]","titleAlign":"right","titleBaseline":"alphabetic","titleX":194,"titleY":100}},"y":{"datum":0.09,"type":"quantitative","scale":{"domain":[0.0405,0.1395],"nice":false,"zero":false,"reverse":true},"axis":{"orient":"left","values":[0.06,0.08,0.1,0.12],"format":"~g","ticks":false,"domain":false,"labelPadding":12,"title":"[Ca]","titleAngle":270,"titleAlign":"left","titleBaseline":"alphabetic","titleX":-135,"titleY":212}}}},
         {"mark":{"type":"point","opacity":0},"encoding":{"x":{"datum":800,"type":"quantitative","scale":{"domain":[360,1240],"nice":false,"zero":false},"axis":{"orient":"bottom","values":[400,600,800,1000,1200],"labels":false,"title":"NSR","titleFontSize":30,"titleAlign":"left","titleBaseline":"alphabetic","titleX":196,"titleY":118}},"y":{"datum":0.09,"type":"quantitative","scale":{"domain":[0.0405,0.1395],"nice":false,"zero":false,"reverse":true},"axis":{"orient":"left","values":[0.06,0.08,0.1,0.12],"labels":false,"title":"myo","titleFontSize":30,"titleAngle":270,"titleAlign":"left","titleBaseline":"alphabetic","titleX":-118,"titleY":141}}}},
         {"mark":{"type":"point","opacity":0},"encoding":{"x":{"datum":800,"type":"quantitative","scale":{"domain":[360,1240],"nice":false,"zero":false},"axis":{"orient":"top","values":[400,600,800,1000,1200],"labels":false,"title":null}},"y":{"datum":0.09,"type":"quantitative","scale":{"domain":[0.0405,0.1395],"nice":false,"zero":false,"reverse":true},"axis":{"orient":"right","values":[0.06,0.08,0.1,0.12],"labels":false,"title":null}}}}
       ],"resolve":{"axis":{"x":"independent","y":"independent"}}}
     ],"columns":2,"spacing":{"row":204,"column":199},"bounds":"flush"}
  ],"spacing":0},
  {"vconcat":[
   {"width":1,"height":40,"view":{"stroke":null},"data":{"name":"s"},"mark":{"type":"rect","opacity":0},"encoding":{}},
   {"concat":[
       {"width":406,"height":289,"title":"Probability of triggering a spark","data":{"name":"b1"},"layer":[
         {"mark":{"type":"rect","width":37.4},"encoding":{"x":{"field":"x","type":"quantitative","scale":{"domain":[360,1240],"nice":false,"zero":false},"axis":null},"color":{"field":"v","type":"quantitative","scale":{"domain":[0,0.111,0.365,0.619,0.873,1],"range":["#00008f","#0000ff","#00ffff","#ffff00","#ff0000","#800000"],"interpolate":"rgb"},"legend":null}}},
         {"mark":{"type":"point","opacity":0},"encoding":{"x":{"datum":800,"type":"quantitative","scale":{"domain":[360,1240],"nice":false,"zero":false},"axis":{"orient":"bottom","values":[400,600,800,1000,1200],"format":"d","ticks":false,"domain":false,"labelPadding":18,"title":"[Ca]","titleAlign":"right","titleBaseline":"alphabetic","titleX":194,"titleY":100}},"y":{"datum":0.09,"type":"quantitative","scale":{"domain":[0.0405,0.1395],"nice":false,"zero":false,"reverse":true},"axis":{"orient":"left","values":[0.06,0.08,0.1,0.12],"format":"~g","ticks":false,"domain":false,"labelPadding":12,"title":"[Ca]","titleAngle":270,"titleAlign":"left","titleBaseline":"alphabetic","titleX":-135,"titleY":212}}}},
         {"mark":{"type":"point","opacity":0},"encoding":{"x":{"datum":800,"type":"quantitative","scale":{"domain":[360,1240],"nice":false,"zero":false},"axis":{"orient":"bottom","values":[400,600,800,1000,1200],"labels":false,"title":"NSR","titleFontSize":30,"titleAlign":"left","titleBaseline":"alphabetic","titleX":196,"titleY":118}},"y":{"datum":0.09,"type":"quantitative","scale":{"domain":[0.0405,0.1395],"nice":false,"zero":false,"reverse":true},"axis":{"orient":"left","values":[0.06,0.08,0.1,0.12],"labels":false,"title":"myo","titleFontSize":30,"titleAngle":270,"titleAlign":"left","titleBaseline":"alphabetic","titleX":-118,"titleY":141}}}},
         {"mark":{"type":"point","opacity":0},"encoding":{"x":{"datum":800,"type":"quantitative","scale":{"domain":[360,1240],"nice":false,"zero":false},"axis":{"orient":"top","values":[400,600,800,1000,1200],"labels":false,"title":null}},"y":{"datum":0.09,"type":"quantitative","scale":{"domain":[0.0405,0.1395],"nice":false,"zero":false,"reverse":true},"axis":{"orient":"right","values":[0.06,0.08,0.1,0.12],"labels":false,"title":null}}}}
       ],"resolve":{"axis":{"x":"independent","y":"independent"}}},
       {"width":406,"height":289,"title":"Probability of unterminated sparks","data":{"name":"b2"},"layer":[
         {"mark":{"type":"rect","width":37.4},"encoding":{"x":{"field":"x","type":"quantitative","scale":{"domain":[360,1240],"nice":false,"zero":false},"axis":null},"color":{"field":"v","type":"quantitative","scale":{"domain":[0,0.111,0.365,0.619,0.873,1],"range":["#00008f","#0000ff","#00ffff","#ffff00","#ff0000","#800000"],"interpolate":"rgb"},"legend":null}}},
         {"mark":{"type":"point","opacity":0},"encoding":{"x":{"datum":800,"type":"quantitative","scale":{"domain":[360,1240],"nice":false,"zero":false},"axis":{"orient":"bottom","values":[400,600,800,1000,1200],"format":"d","ticks":false,"domain":false,"labelPadding":18,"title":"[Ca]","titleAlign":"right","titleBaseline":"alphabetic","titleX":194,"titleY":100}},"y":{"datum":0.09,"type":"quantitative","scale":{"domain":[0.0405,0.1395],"nice":false,"zero":false,"reverse":true},"axis":{"orient":"left","values":[0.06,0.08,0.1,0.12],"format":"~g","ticks":false,"domain":false,"labelPadding":12,"title":"[Ca]","titleAngle":270,"titleAlign":"left","titleBaseline":"alphabetic","titleX":-135,"titleY":212}}}},
         {"mark":{"type":"point","opacity":0},"encoding":{"x":{"datum":800,"type":"quantitative","scale":{"domain":[360,1240],"nice":false,"zero":false},"axis":{"orient":"bottom","values":[400,600,800,1000,1200],"labels":false,"title":"NSR","titleFontSize":30,"titleAlign":"left","titleBaseline":"alphabetic","titleX":196,"titleY":118}},"y":{"datum":0.09,"type":"quantitative","scale":{"domain":[0.0405,0.1395],"nice":false,"zero":false,"reverse":true},"axis":{"orient":"left","values":[0.06,0.08,0.1,0.12],"labels":false,"title":"myo","titleFontSize":30,"titleAngle":270,"titleAlign":"left","titleBaseline":"alphabetic","titleX":-118,"titleY":141}}}},
         {"mark":{"type":"point","opacity":0},"encoding":{"x":{"datum":800,"type":"quantitative","scale":{"domain":[360,1240],"nice":false,"zero":false},"axis":{"orient":"top","values":[400,600,800,1000,1200],"labels":false,"title":null}},"y":{"datum":0.09,"type":"quantitative","scale":{"domain":[0.0405,0.1395],"nice":false,"zero":false,"reverse":true},"axis":{"orient":"right","values":[0.06,0.08,0.1,0.12],"labels":false,"title":null}}}}
       ],"resolve":{"axis":{"x":"independent","y":"independent"}}},
       {"width":406,"height":289,"title":"Spark Ca2+ Release","data":{"name":"b3"},"layer":[
         {"mark":{"type":"rect","width":37.4},"encoding":{"x":{"field":"x","type":"quantitative","scale":{"domain":[360,1240],"nice":false,"zero":false},"axis":null},"color":{"field":"v","type":"quantitative","scale":{"domain":[0,0.111,0.365,0.619,0.873,1],"range":["#00008f","#0000ff","#00ffff","#ffff00","#ff0000","#800000"],"interpolate":"rgb"},"legend":null}}},
         {"mark":{"type":"point","opacity":0},"encoding":{"x":{"datum":800,"type":"quantitative","scale":{"domain":[360,1240],"nice":false,"zero":false},"axis":{"orient":"bottom","values":[400,600,800,1000,1200],"format":"d","ticks":false,"domain":false,"labelPadding":18,"title":"[Ca]","titleAlign":"right","titleBaseline":"alphabetic","titleX":194,"titleY":100}},"y":{"datum":0.09,"type":"quantitative","scale":{"domain":[0.0405,0.1395],"nice":false,"zero":false,"reverse":true},"axis":{"orient":"left","values":[0.06,0.08,0.1,0.12],"format":"~g","ticks":false,"domain":false,"labelPadding":12,"title":"[Ca]","titleAngle":270,"titleAlign":"left","titleBaseline":"alphabetic","titleX":-135,"titleY":212}}}},
         {"mark":{"type":"point","opacity":0},"encoding":{"x":{"datum":800,"type":"quantitative","scale":{"domain":[360,1240],"nice":false,"zero":false},"axis":{"orient":"bottom","values":[400,600,800,1000,1200],"labels":false,"title":"NSR","titleFontSize":30,"titleAlign":"left","titleBaseline":"alphabetic","titleX":196,"titleY":118}},"y":{"datum":0.09,"type":"quantitative","scale":{"domain":[0.0405,0.1395],"nice":false,"zero":false,"reverse":true},"axis":{"orient":"left","values":[0.06,0.08,0.1,0.12],"labels":false,"title":"myo","titleFontSize":30,"titleAngle":270,"titleAlign":"left","titleBaseline":"alphabetic","titleX":-118,"titleY":141}}}},
         {"mark":{"type":"point","opacity":0},"encoding":{"x":{"datum":800,"type":"quantitative","scale":{"domain":[360,1240],"nice":false,"zero":false},"axis":{"orient":"top","values":[400,600,800,1000,1200],"labels":false,"title":null}},"y":{"datum":0.09,"type":"quantitative","scale":{"domain":[0.0405,0.1395],"nice":false,"zero":false,"reverse":true},"axis":{"orient":"right","values":[0.06,0.08,0.1,0.12],"labels":false,"title":null}}}}
       ],"resolve":{"axis":{"x":"independent","y":"independent"}}},
       {"width":406,"height":289,"title":"Invisible Ca2+ Release","data":{"name":"b4"},"layer":[
         {"mark":{"type":"rect","width":37.4},"encoding":{"x":{"field":"x","type":"quantitative","scale":{"domain":[360,1240],"nice":false,"zero":false},"axis":null},"color":{"field":"v","type":"quantitative","scale":{"domain":[0,0.111,0.365,0.619,0.873,1],"range":["#00008f","#0000ff","#00ffff","#ffff00","#ff0000","#800000"],"interpolate":"rgb"},"legend":null}}},
         {"mark":{"type":"point","opacity":0},"encoding":{"x":{"datum":800,"type":"quantitative","scale":{"domain":[360,1240],"nice":false,"zero":false},"axis":{"orient":"bottom","values":[400,600,800,1000,1200],"format":"d","ticks":false,"domain":false,"labelPadding":18,"title":"[Ca]","titleAlign":"right","titleBaseline":"alphabetic","titleX":194,"titleY":100}},"y":{"datum":0.09,"type":"quantitative","scale":{"domain":[0.0405,0.1395],"nice":false,"zero":false,"reverse":true},"axis":{"orient":"left","values":[0.06,0.08,0.1,0.12],"format":"~g","ticks":false,"domain":false,"labelPadding":12,"title":"[Ca]","titleAngle":270,"titleAlign":"left","titleBaseline":"alphabetic","titleX":-135,"titleY":212}}}},
         {"mark":{"type":"point","opacity":0},"encoding":{"x":{"datum":800,"type":"quantitative","scale":{"domain":[360,1240],"nice":false,"zero":false},"axis":{"orient":"bottom","values":[400,600,800,1000,1200],"labels":false,"title":"NSR","titleFontSize":30,"titleAlign":"left","titleBaseline":"alphabetic","titleX":196,"titleY":118}},"y":{"datum":0.09,"type":"quantitative","scale":{"domain":[0.0405,0.1395],"nice":false,"zero":false,"reverse":true},"axis":{"orient":"left","values":[0.06,0.08,0.1,0.12],"labels":false,"title":"myo","titleFontSize":30,"titleAngle":270,"titleAlign":"left","titleBaseline":"alphabetic","titleX":-118,"titleY":141}}}},
         {"mark":{"type":"point","opacity":0},"encoding":{"x":{"datum":800,"type":"quantitative","scale":{"domain":[360,1240],"nice":false,"zero":false},"axis":{"orient":"top","values":[400,600,800,1000,1200],"labels":false,"title":null}},"y":{"datum":0.09,"type":"quantitative","scale":{"domain":[0.0405,0.1395],"nice":false,"zero":false,"reverse":true},"axis":{"orient":"right","values":[0.06,0.08,0.1,0.12],"labels":false,"title":null}}}}
       ],"resolve":{"axis":{"x":"independent","y":"independent"}}},
       {"width":406,"height":289,"title":"Spark Ca2+ Leak","data":{"name":"b5"},"layer":[
         {"mark":{"type":"rect","width":37.4,"height":26.8},"encoding":{"x":{"field":"x","type":"quantitative","scale":{"domain":[360,1240],"nice":false,"zero":false},"axis":null},"y":{"field":"y","type":"quantitative","scale":{"domain":[0.0405,0.1395],"nice":false,"zero":false,"reverse":true},"axis":null},"color":{"field":"v","type":"quantitative","scale":{"domain":[0,0.111,0.365,0.619,0.873,1],"range":["#00008f","#0000ff","#00ffff","#ffff00","#ff0000","#800000"],"interpolate":"rgb"},"legend":null}}},
         {"mark":{"type":"point","opacity":0},"encoding":{"x":{"datum":800,"type":"quantitative","scale":{"domain":[360,1240],"nice":false,"zero":false},"axis":{"orient":"bottom","values":[400,600,800,1000,1200],"format":"d","ticks":false,"domain":false,"labelPadding":18,"title":"[Ca]","titleAlign":"right","titleBaseline":"alphabetic","titleX":194,"titleY":100}},"y":{"datum":0.09,"type":"quantitative","scale":{"domain":[0.0405,0.1395],"nice":false,"zero":false,"reverse":true},"axis":{"orient":"left","values":[0.06,0.08,0.1,0.12],"format":"~g","ticks":false,"domain":false,"labelPadding":12,"title":"[Ca]","titleAngle":270,"titleAlign":"left","titleBaseline":"alphabetic","titleX":-135,"titleY":212}}}},
         {"mark":{"type":"point","opacity":0},"encoding":{"x":{"datum":800,"type":"quantitative","scale":{"domain":[360,1240],"nice":false,"zero":false},"axis":{"orient":"bottom","values":[400,600,800,1000,1200],"labels":false,"title":"NSR","titleFontSize":30,"titleAlign":"left","titleBaseline":"alphabetic","titleX":196,"titleY":118}},"y":{"datum":0.09,"type":"quantitative","scale":{"domain":[0.0405,0.1395],"nice":false,"zero":false,"reverse":true},"axis":{"orient":"left","values":[0.06,0.08,0.1,0.12],"labels":false,"title":"myo","titleFontSize":30,"titleAngle":270,"titleAlign":"left","titleBaseline":"alphabetic","titleX":-118,"titleY":141}}}},
         {"mark":{"type":"point","opacity":0},"encoding":{"x":{"datum":800,"type":"quantitative","scale":{"domain":[360,1240],"nice":false,"zero":false},"axis":{"orient":"top","values":[400,600,800,1000,1200],"labels":false,"title":null}},"y":{"datum":0.09,"type":"quantitative","scale":{"domain":[0.0405,0.1395],"nice":false,"zero":false,"reverse":true},"axis":{"orient":"right","values":[0.06,0.08,0.1,0.12],"labels":false,"title":null}}}}
       ],"resolve":{"axis":{"x":"independent","y":"independent"}}},
       {"width":406,"height":289,"title":"Invisible Ca2+ Leak","data":{"name":"b6"},"layer":[
         {"mark":{"type":"rect","width":37.4,"height":26.8},"encoding":{"x":{"field":"x","type":"quantitative","scale":{"domain":[360,1240],"nice":false,"zero":false},"axis":null},"y":{"field":"y","type":"quantitative","scale":{"domain":[0.0405,0.1395],"nice":false,"zero":false,"reverse":true},"axis":null},"color":{"field":"v","type":"quantitative","scale":{"domain":[0,0.111,0.365,0.619,0.873,1],"range":["#00008f","#0000ff","#00ffff","#ffff00","#ff0000","#800000"],"interpolate":"rgb"},"legend":null}}},
         {"mark":{"type":"point","opacity":0},"encoding":{"x":{"datum":800,"type":"quantitative","scale":{"domain":[360,1240],"nice":false,"zero":false},"axis":{"orient":"bottom","values":[400,600,800,1000,1200],"format":"d","ticks":false,"domain":false,"labelPadding":18,"title":"[Ca]","titleAlign":"right","titleBaseline":"alphabetic","titleX":194,"titleY":100}},"y":{"datum":0.09,"type":"quantitative","scale":{"domain":[0.0405,0.1395],"nice":false,"zero":false,"reverse":true},"axis":{"orient":"left","values":[0.06,0.08,0.1,0.12],"format":"~g","ticks":false,"domain":false,"labelPadding":12,"title":"[Ca]","titleAngle":270,"titleAlign":"left","titleBaseline":"alphabetic","titleX":-135,"titleY":212}}}},
         {"mark":{"type":"point","opacity":0},"encoding":{"x":{"datum":800,"type":"quantitative","scale":{"domain":[360,1240],"nice":false,"zero":false},"axis":{"orient":"bottom","values":[400,600,800,1000,1200],"labels":false,"title":"NSR","titleFontSize":30,"titleAlign":"left","titleBaseline":"alphabetic","titleX":196,"titleY":118}},"y":{"datum":0.09,"type":"quantitative","scale":{"domain":[0.0405,0.1395],"nice":false,"zero":false,"reverse":true},"axis":{"orient":"left","values":[0.06,0.08,0.1,0.12],"labels":false,"title":"myo","titleFontSize":30,"titleAngle":270,"titleAlign":"left","titleBaseline":"alphabetic","titleX":-118,"titleY":141}}}},
         {"mark":{"type":"point","opacity":0},"encoding":{"x":{"datum":800,"type":"quantitative","scale":{"domain":[360,1240],"nice":false,"zero":false},"axis":{"orient":"top","values":[400,600,800,1000,1200],"labels":false,"title":null}},"y":{"datum":0.09,"type":"quantitative","scale":{"domain":[0.0405,0.1395],"nice":false,"zero":false,"reverse":true},"axis":{"orient":"right","values":[0.06,0.08,0.1,0.12],"labels":false,"title":null}}}}
       ],"resolve":{"axis":{"x":"independent","y":"independent"}}}
     ],"columns":2,"spacing":{"row":204,"column":199},"bounds":"flush"}
  ],"spacing":0}
 ],"spacing":80}
]
}
